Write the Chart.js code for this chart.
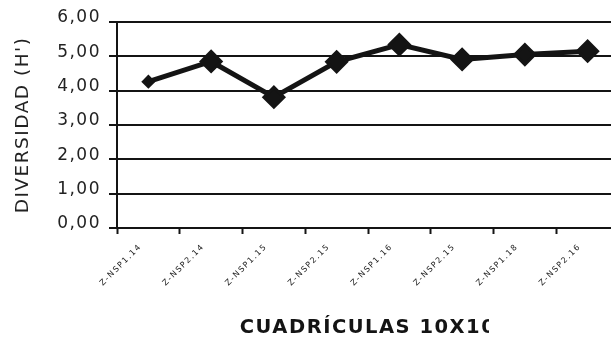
<!DOCTYPE html>
<html>
<head>
<meta charset="utf-8">
<script src="https://cdn.jsdelivr.net/npm/chart.js@4.4.1/dist/chart.umd.min.js"></script>
<style>
  html, body { margin: 0; padding: 0; background: #fff; overflow: hidden; }
  #wrap { width: 632px; height: 340px; }
</style>
</head>
<body>
<div id="wrap"><canvas id="chart" width="632" height="340"></canvas></div>
<script>
// quadrat codes along the transect
const cuadriculas = ['Z-NSP1.14', 'Z-NSP2.14', 'Z-NSP1.15', 'Z-NSP2.15', 'Z-NSP1.16', 'Z-NSP2.15', 'Z-NSP1.18', 'Z-NSP2.16'];
// Shannon diversity H' per quadrat
const diversidad = [4.26, 4.85, 3.81, 4.84, 5.34, 4.91, 5.05, 5.15];
const yTicks = [0, 1, 2, 3, 4, 5, 6];

const ink = '#141414';

// old-style spreadsheet text is set loose
const letterSpacing = {
  id: 'letterSpacing',
  beforeLayout(chart) { chart.ctx.letterSpacing = '1.5px'; },
  beforeDraw(chart) { chart.ctx.letterSpacing = '1.5px'; },
  // the axis title box cuts the last character
  afterDraw(chart) {
    const ctx = chart.ctx;
    ctx.save();
    ctx.fillStyle = '#fff';
    ctx.fillRect(489, 310, chart.width - 489, 30);
    ctx.restore();
  }
};

new Chart(document.getElementById('chart'), {
  type: 'line',
  data: {
    labels: cuadriculas,
    datasets: [{
      data: diversidad,
      borderColor: ink,
      backgroundColor: ink,
      borderWidth: 5,
      tension: 0,
      pointStyle: 'rectRot',
      pointRadius: [5, 10, 10, 10, 10, 10, 10, 10],
      pointBorderWidth: 3,
      pointBackgroundColor: ink,
      pointBorderColor: ink
    }]
  },
  options: {
    responsive: false,
    animation: false,
    devicePixelRatio: 1,
    layout: { padding: { top: 22, right: 11, left: 0, bottom: 0 } },
    plugins: {
      legend: { display: false },
      tooltip: { enabled: false }
    },
    scales: {
      x: {
        offset: true,
        grid: {
          offset: true,
          drawOnChartArea: false,
          drawTicks: true,
          tickLength: 6,
          tickWidth: 2,
          tickColor: ink
        },
        border: { color: ink, width: 2 },
        ticks: {
          autoSkip: false,
          minRotation: 45,
          maxRotation: 45,
          padding: 8,
          labelOffset: -8,
          color: '#222',
          font: { family: 'DejaVu Sans', size: 8 }
        },
        title: {
          display: true,
          text: 'CUADRÍCULAS 10X10',
          color: ink,
          padding: { top: 0, bottom: 0 },
          font: { family: 'DejaVu Sans', size: 19.5, weight: 'bold' }
        },
        afterFit(scale) { scale.height = 112; }
      },
      y: {
        min: 0,
        max: 6,
        afterBuildTicks(scale) { scale.ticks = yTicks.map(v => ({ value: v })); },
        grid: {
          color: ink,
          lineWidth: 2,
          drawTicks: true,
          tickLength: 8,
          tickColor: ink
        },
        border: { color: ink, width: 2 },
        ticks: {
          padding: 8,
          labelOffset: -4,
          color: '#222',
          font: { family: 'DejaVu Sans', size: 17 },
          callback: v => v.toFixed(2).replace('.', ',')
        },
        title: {
          display: true,
          text: "DIVERSIDAD (H')",
          color: '#222',
          padding: { top: 12, bottom: 0 },
          font: { family: 'DejaVu Sans', size: 18.5 }
        },
        afterFit(scale) { scale.width = 117; }
      }
    }
  },
  plugins: [letterSpacing]
});
</script>
</body>
</html>
